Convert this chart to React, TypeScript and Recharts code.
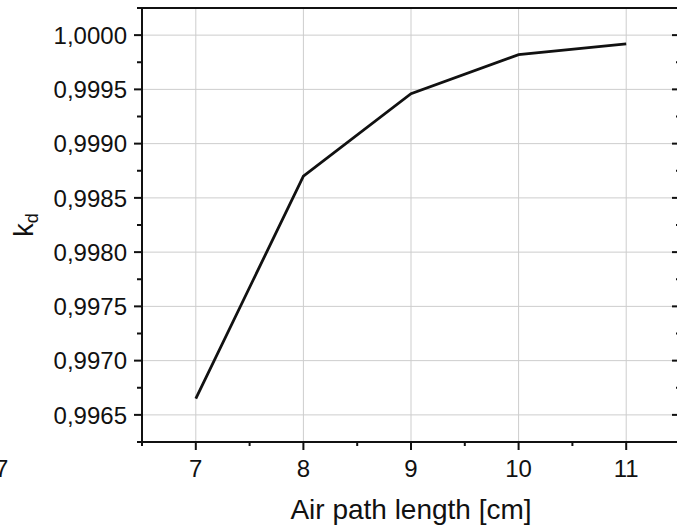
import { LineChart, Line, XAxis, YAxis, ReferenceLine } from 'recharts'

// air path length in cm and the matching correction factor k_d
const pathLength = [7, 8, 9, 10, 11]
const kd = [0.99665, 0.9987, 0.99946, 0.99982, 0.99992]

const majorX = [7, 8, 9, 10, 11]
const minorX = [6.5, 7.5, 8.5, 9.5, 10.5, 11.5]
const majorY = [0.9965, 0.997, 0.9975, 0.998, 0.9985, 0.999, 0.9995, 1.0]
const minorY = [0.99625, 0.99675, 0.99725, 0.99775, 0.99825, 0.99875, 0.99925, 0.99975, 1.00025]

const data = pathLength.map((x, i) => ({ x, kd: kd[i] }))
const xTicks = [...majorX, ...minorX].sort((a, b) => a - b)
const yTicks = [...majorY, ...minorY].sort((a, b) => a - b)

const ink = '#111'
const grid = '#cdcdcd'
const font = "'Liberation Sans', Arial, sans-serif"
const axisStyle = { stroke: ink, strokeWidth: 2, strokeLinecap: 'square' as const }

const fmtY = (v: number) => v.toFixed(4).replace('.', ',')

// tickSize/tickMargin are 0, so x/y arrive on the axis line itself
function BottomTick ({ x, y, payload }: any) {
  const major = majorX.includes(payload.value)
  return (
    <g>
      <line x1={x} x2={x} y1={y} y2={y + (major ? 8 : 4)} stroke={ink} strokeWidth={2} />
      {major && (
        <text x={x} y={y + 35} textAnchor='middle' fontSize={24} fontFamily={font} fill={ink}>
          {payload.value}
        </text>
      )}
    </g>
  )
}

function LeftTick ({ x, y, payload }: any) {
  const major = majorY.includes(payload.value)
  return (
    <g>
      <line x1={x - (major ? 8 : 5)} x2={x} y1={y} y2={y} stroke={ink} strokeWidth={2} />
      {major && (
        <text x={x - 15} y={y} dy='0.36em' textAnchor='end' fontSize={24} fontFamily={font} fill={ink}>
          {fmtY(payload.value)}
        </text>
      )}
    </g>
  )
}

function TopTick ({ x, y, payload }: any) {
  const major = majorX.includes(payload.value)
  return <line x1={x} x2={x} y1={y} y2={y + (major ? 8 : 4)} stroke={ink} strokeWidth={2} />
}

function RightTick ({ x, y, payload }: any) {
  const major = majorY.includes(payload.value)
  return <line x1={x - (major ? 8 : 4)} x2={x} y1={y} y2={y} stroke={ink} strokeWidth={2} />
}

function XTitle ({ viewBox }: any) {
  return (
    <text x={viewBox.x + viewBox.width / 2} y={viewBox.y + 77} textAnchor='middle' fontSize={28} fontFamily={font} fill={ink}>
      Air path length [cm]
    </text>
  )
}

function YTitle ({ viewBox }: any) {
  const cx = viewBox.x + 33
  const cy = viewBox.y + viewBox.height / 2
  return (
    <text transform={`translate(${cx},${cy}) rotate(-90)`} textAnchor='middle' fontSize={27} fontFamily={font} fill={ink}>
      k<tspan fontSize={18} dy={5}>d</tspan>
    </text>
  )
}

export default function App () {
  return (
    <div style={{ position: 'absolute', left: 0, top: 0, width: 677, height: 525, overflow: 'hidden', background: '#fff' }}>
      {/* stray tick label from the neighbouring panel */}
      <svg style={{ position: 'absolute', left: 0, top: 0 }} width={20} height={525}>
        <text x={-5} y={477} fontSize={24} fontFamily={font} fill={ink}>7</text>
      </svg>
      <div style={{ position: 'absolute', left: 0, top: 0 }}>
        <LineChart width={700} height={525} data={data} margin={{ top: 0, right: 0, bottom: 0, left: 0 }}>
          <XAxis
            dataKey='x'
            type='number'
            domain={[6.5, 11.5]}
            allowDataOverflow
            ticks={xTicks}
            interval={0}
            tickSize={0}
            tickMargin={0}
            tick={BottomTick}
            axisLine={axisStyle}
            height={83}
            label={{ content: XTitle }}
          />
          <XAxis
            xAxisId='top'
            orientation='top'
            type='number'
            domain={[6.5, 11.5]}
            allowDataOverflow
            ticks={xTicks}
            interval={0}
            tickSize={0}
            tickMargin={0}
            tick={TopTick}
            axisLine={axisStyle}
            height={8}
          />
          <YAxis
            type='number'
            domain={[0.99625, 1.00025]}
            allowDataOverflow
            ticks={yTicks}
            interval={0}
            tickSize={0}
            tickMargin={0}
            tick={LeftTick}
            axisLine={axisStyle}
            width={142}
            label={{ content: YTitle }}
          />
          <YAxis
            yAxisId='right'
            orientation='right'
            type='number'
            domain={[0.99625, 1.00025]}
            allowDataOverflow
            ticks={yTicks}
            interval={0}
            tickSize={0}
            tickMargin={0}
            tick={RightTick}
            axisLine={axisStyle}
            width={20}
          />
          {majorX.map(v => (
            <ReferenceLine key={'gx' + v} x={v} stroke={grid} strokeWidth={1} />
          ))}
          {majorY.map(v => (
            <ReferenceLine key={'gy' + v} y={v} stroke={grid} strokeWidth={1} />
          ))}
          <Line
            type='linear'
            dataKey='kd'
            stroke={ink}
            strokeWidth={2.8}
            dot={false}
            isAnimationActive={false}
          />
        </LineChart>
      </div>
    </div>
  )
}
